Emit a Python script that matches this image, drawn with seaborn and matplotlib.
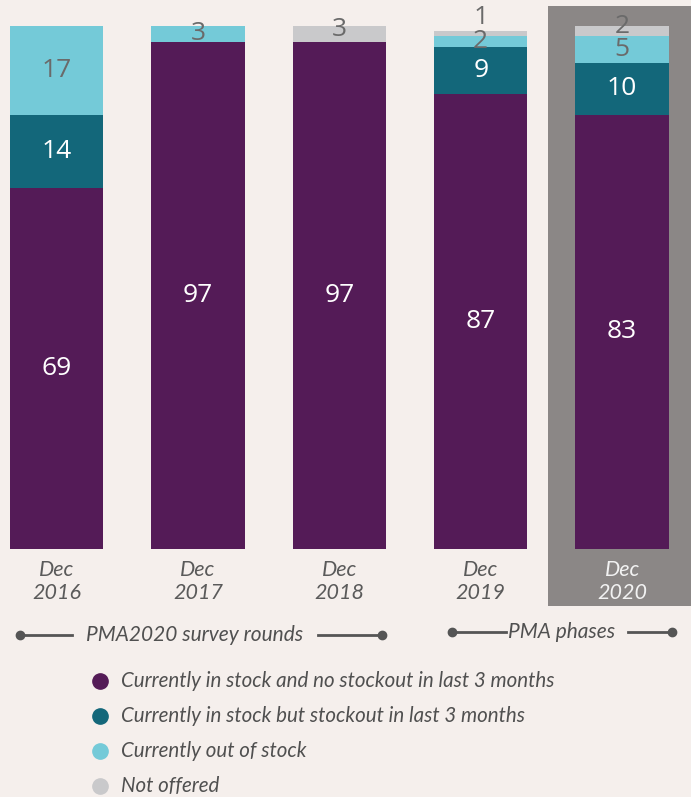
import pandas as pd
import matplotlib.pyplot as plt
import seaborn as sns
from matplotlib.lines import Line2D
from matplotlib.patches import Rectangle

# Data
rounds = ['Dec\n2016', 'Dec\n2017', 'Dec\n2018', 'Dec\n2019', 'Dec\n2020']
in_stock_no_stockout = [69, 97, 97, 87, 83]
in_stock_stockout = [14, 0, 0, 9, 10]
out_of_stock = [17, 3, 0, 2, 5]
not_offered = [0, 0, 3, 1, 2]

series_names = [
    'Currently in stock and no stockout in last 3 months',
    'Currently in stock but stockout in last 3 months',
    'Currently out of stock',
    'Not offered',
]
series_values = [in_stock_no_stockout, in_stock_stockout, out_of_stock, not_offered]
colors = ['#541b57', '#13677a', '#74cad8', '#c9c9cb']
label_colors = ['white', 'white', '#6a6a6a', '#6a6a6a']

bg = '#f5efec'
plt.rcParams['font.family'] = ['Lato', 'DejaVu Sans']

fig = plt.figure(figsize=(6.91, 7.97), dpi=100, facecolor=bg)

# grey box behind the PMA phase bar
fig.add_artist(Rectangle((548 / 691, 191 / 797), 143 / 691, 600 / 797,
                         transform=fig.transFigure, facecolor='#8b8786',
                         edgecolor='none', zorder=0))

ax = fig.add_axes([0, 248 / 797, 1, 549 / 797])
ax.set_facecolor('none')

df = pd.DataFrame({'round': rounds})
bottom = [0] * len(rounds)
for name, vals, col in zip(series_names, series_values, colors):
    df[name] = vals
    sns.barplot(x=list(range(len(rounds))), y=vals, bottom=bottom, color=col,
                width=0.66, ax=ax, native_scale=True, saturation=1,
                edgecolor='none', linewidth=0)
    bottom = [b + v for b, v in zip(bottom, vals)]

# segment labels
num_font = ['Open Sans', 'DejaVu Sans']
bottom = [0] * len(rounds)
for k, (vals, lc) in enumerate(zip(series_values, label_colors)):
    for i, v in enumerate(vals):
        if v > 0:
            if v < 2:
                ax.text(i, bottom[i] + v + 0.2, str(v), ha='center', va='bottom',
                        color=lc, fontsize=19, family=num_font)
            else:
                yy = bottom[i] + v / 2
                if k == 3:
                    yy += 0.9
                ax.text(i, yy, str(v), ha='center', va='center',
                        color=lc, fontsize=19, family=num_font)
        bottom[i] += v

ax.set_xlim(-56.5 / 141.4, (691 - 56.5) / 141.4)
ax.set_ylim(0, 549 / 523 * 100)
ax.set_xticks(range(len(rounds)))
ax.set_xticklabels(rounds, fontsize=15.5, style='italic', color='#5a5a5a',
                   linespacing=1.2)
ax.get_xticklabels()[-1].set_color('#f2f2f2')
ax.tick_params(axis='x', length=0, pad=8)
ax.set_yticks([])
ax.set_xlabel('')
ax.set_ylabel('')
for s in ax.spines.values():
    s.set_visible(False)

# survey-round / phase brackets
lc = '#555555'
def hline(x0, x1, y):
    fig.add_artist(Line2D([x0 / 691, x1 / 691], [1 - y / 797, 1 - y / 797],
                          transform=fig.transFigure, color=lc, lw=2))

def dot(x, y):
    fig.add_artist(Line2D([x / 691], [1 - y / 797], transform=fig.transFigure,
                          marker='o', markersize=6, color=lc, lw=0))

hline(20, 72, 635); dot(20, 635)
hline(318, 382, 635); dot(382, 635)
fig.text(195 / 691, 1 - 635 / 797, 'PMA2020 survey rounds', ha='center',
         va='center', fontsize=15, style='italic', color='#505050')
hline(452, 506, 632); dot(452, 632)
hline(628, 672, 632); dot(672, 632)
fig.text(562 / 691, 1 - 632 / 797, 'PMA phases', ha='center',
         va='center', fontsize=15, style='italic', color='#505050')

# legend
for k, (name, col) in enumerate(zip(series_names, colors)):
    y = 1 - (681 + 35 * k) / 797
    fig.add_artist(Line2D([100 / 691], [y], transform=fig.transFigure,
                          marker='o', markersize=11, color=col, lw=0))
    fig.text(121 / 691, y, name, ha='left', va='center', fontsize=14.8,
             style='italic', color='#505050')

fig.savefig('out.png', dpi=100, facecolor=bg)
